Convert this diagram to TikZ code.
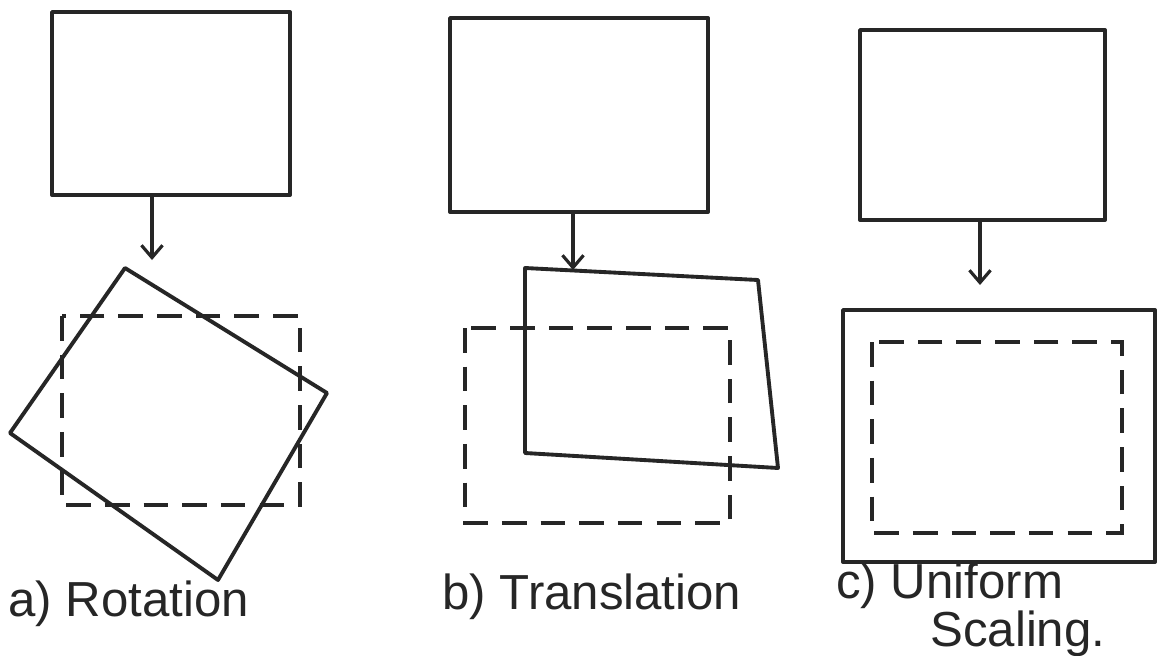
\documentclass[tikz,border=0pt]{standalone}
\usepackage{fontspec}
\setmainfont{Liberation Sans}
\usetikzlibrary{arrows.meta}
\begin{document}
\begin{tikzpicture}[x=0.02cm,y=-0.02cm,
  ink/.style={draw=black!85,line width=2.2pt,line join=round},
  ghost/.style={draw=black!85,line width=1.8pt,dash pattern=on 14pt off 8pt},
  down/.style={ink,line width=1.8pt,-{Straight Barb[length=7pt,width=12pt]}},
  lbl/.style={font=\fontsize{28}{32}\selectfont,text=black!85,inner sep=0pt}]
\useasboundingbox[fill=white] (0,0) rectangle (1161,656);
% top rectangles
\draw[ink] (52,12) rectangle (290,195);
\draw[ink] (450,18) rectangle (708,212);
\draw[ink] (860,30) rectangle (1105,220);
\node[inner sep=0pt] (t1) at (152,195) {};
\node[inner sep=0pt] (t2) at (573,212) {};
\node[inner sep=0pt] (t3) at (980,220) {};
\coordinate (b1) at (152,260);
\coordinate (b2) at (573,270);
\coordinate (b3) at (980,285);
\draw[down] (t1) -- (b1);
\draw[down] (t2) -- (b2);
\draw[down] (t3) -- (b3);
% a) rotation
\draw[ghost] (62,316) rectangle (300,505);
\draw[ink] (125,268) -- (327,393) -- (218,580) -- (10,433) -- cycle;
% b) translation
\draw[ghost] (465,328) rectangle (730,523);
\draw[ink] (525,268) -- (758,280) -- (778,468) -- (525,453) -- cycle;
% c) uniform scaling
\draw[ghost] (872,342) rectangle (1122,533);
\draw[ink] (843,310) rectangle (1155,562);
% labels
\node[lbl,anchor=west] (la) at (8,604) {a) Rotation};
\node[lbl,anchor=west] (lb) at (442,597) {b) Translation};
\node[lbl,anchor=west] (lc) at (836,586) {c) Uniform};
\node[lbl,anchor=west] (ld) at (930,634) {Scaling.};
\end{tikzpicture}
\end{document}
